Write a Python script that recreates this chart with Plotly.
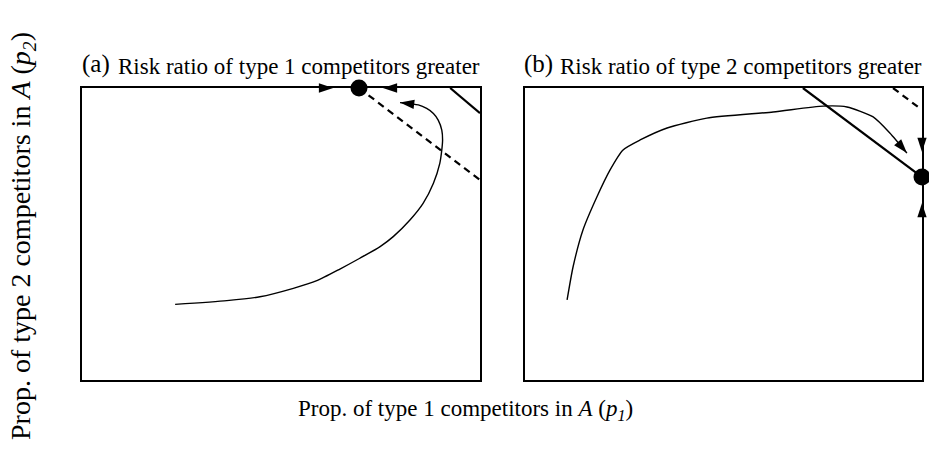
import math
import plotly.graph_objects as go

# ---- data (proportions, 0..1 on both axes) ----
# Panel (a): trajectory p1, p2
a_curve_p1 = [0.234, 0.364, 0.447, 0.531, 0.590, 0.648, 0.698, 0.749, 0.782, 0.824, 0.857, 0.883, 0.899, 0.904, 0.906, 0.904, 0.895, 0.883, 0.866, 0.845, 0.799]
a_curve_p2 = [0.259, 0.272, 0.285, 0.314, 0.340, 0.380, 0.417, 0.457, 0.491, 0.548, 0.605, 0.674, 0.742, 0.788, 0.822, 0.856, 0.890, 0.913, 0.930, 0.942, 0.950]
a_eq_p1, a_eq_p2 = [0.696], [1.0]
a_dash_p1, a_dash_p2 = [0.696, 1.0], [1.0, 0.685]
a_solid_p1, a_solid_p2 = [0.925, 1.0], [1.0, 0.914]
a_edge_arrow_p1 = [0.631, 0.756]
a_edge_arrow_p2 = [1.0, 1.0]
a_edge_arrow_dir = [90, 270]

# Panel (b)
b_curve_p1 = [0.106, 0.121, 0.146, 0.181, 0.214, 0.247, 0.290, 0.358, 0.458, 0.625, 0.751, 0.811, 0.877, 0.919, 0.962]
b_curve_p2 = [0.274, 0.387, 0.514, 0.627, 0.719, 0.788, 0.822, 0.863, 0.897, 0.918, 0.938, 0.935, 0.901, 0.846, 0.777]
b_eq_p1, b_eq_p2 = [1.0], [0.695]
b_solid_p1, b_solid_p2 = [0.700, 1.0], [1.0, 0.695]
b_dash_p1, b_dash_p2 = [0.927, 0.990], [1.0, 0.935]
b_edge_arrow_p1 = [1.0, 1.0]
b_edge_arrow_p2 = [0.781, 0.606]
b_edge_arrow_dir = [180, 0]

panel_tags = ["(a)", "(b)"]
panel_titles = ["Risk ratio of type 1 competitors greater",
                "Risk ratio of type 2 competitors greater"]
x_title = "Prop. of type 1 competitors in <i>A</i> (<i>p<sub>1</sub></i>)"
y_title = "Prop. of type 2 competitors in <i>A</i> (<i>p<sub>2</sub></i>)"

FONT = "Liberation Serif"
W, H = 929, 455
PX_X0, PX_X1 = 82, 480       # panel (a) horizontal extent in px
PX_X0B, PX_X1B = 525, 922    # panel (b)
PX_YT, PX_YB = 88, 380       # both panels vertical extent
PLOT_W = PX_X1 - PX_X0
PLOT_H = PX_YB - PX_YT

fig = go.Figure()

def end_angle(cp1, cp2):
    dx = (cp1[-1] - cp1[-2]) * PLOT_W
    dy = (cp2[-1] - cp2[-2]) * PLOT_H
    return math.degrees(math.atan2(dx, dy))

def add_panel(xa, ya, cp1, cp2, eqx, eqy, sx, sy, dx, dy, ex, ey, edir):
    fig.add_trace(go.Scatter(x=cp1, y=cp2, mode="lines",
                             line=dict(color="black", width=1.4, shape="spline", smoothing=0.6),
                             xaxis=xa, yaxis=ya, cliponaxis=False, hoverinfo="skip"))
    fig.add_trace(go.Scatter(x=cp1[-1:], y=cp2[-1:], mode="markers",
                             marker=dict(symbol="arrow", size=15, color="black", angle=end_angle(cp1, cp2),
                                         line=dict(width=0)),
                             xaxis=xa, yaxis=ya, cliponaxis=False, hoverinfo="skip"))
    fig.add_trace(go.Scatter(x=sx, y=sy, mode="lines", line=dict(color="black", width=2.2),
                             xaxis=xa, yaxis=ya, cliponaxis=False, hoverinfo="skip"))
    fig.add_trace(go.Scatter(x=dx, y=dy, mode="lines", line=dict(color="black", width=2.2, dash="7px,5px"),
                             xaxis=xa, yaxis=ya, cliponaxis=False, hoverinfo="skip"))
    fig.add_trace(go.Scatter(x=ex, y=ey, mode="markers",
                             marker=dict(symbol="arrow", size=15, color="black", angle=edir, line=dict(width=0)),
                             xaxis=xa, yaxis=ya, cliponaxis=False, hoverinfo="skip"))
    fig.add_trace(go.Scatter(x=eqx, y=eqy, mode="markers", marker=dict(size=17, color="black"),
                             xaxis=xa, yaxis=ya, cliponaxis=False, hoverinfo="skip"))

add_panel("x", "y", a_curve_p1, a_curve_p2, a_eq_p1, a_eq_p2, a_solid_p1, a_solid_p2,
          a_dash_p1, a_dash_p2, a_edge_arrow_p1, a_edge_arrow_p2, a_edge_arrow_dir)
add_panel("x2", "y2", b_curve_p1, b_curve_p2, b_eq_p1, b_eq_p2, b_solid_p1, b_solid_p2,
          b_dash_p1, b_dash_p2, b_edge_arrow_p1, b_edge_arrow_p2, b_edge_arrow_dir)

ydom = [1 - PX_YB / H, 1 - PX_YT / H]
axcommon = dict(range=[0, 1], showgrid=False, zeroline=False, showticklabels=False, ticks="",
                showline=True, mirror=True, linecolor="black", linewidth=2, fixedrange=True)

fig.update_layout(
    width=W, height=H, margin=dict(l=0, r=0, t=0, b=0),
    paper_bgcolor="white", plot_bgcolor="white", showlegend=False,
    font=dict(family=FONT, color="black"),
    xaxis=dict(domain=[PX_X0 / W, PX_X1 / W], anchor="y", **axcommon),
    yaxis=dict(domain=ydom, anchor="x", **axcommon),
    xaxis2=dict(domain=[PX_X0B / W, PX_X1B / W], anchor="y2", **axcommon),
    yaxis2=dict(domain=ydom, anchor="x2", **axcommon),
)

def panel_title(x0, tag, text):
    fig.add_annotation(x=x0 / W, y=1 - 64 / H, xref="paper", yref="paper", xanchor="left", yanchor="middle",
                       showarrow=False, text=tag, font=dict(family=FONT, size=25, color="black"))
    fig.add_annotation(x=(x0 + 36) / W, y=1 - 66 / H, xref="paper", yref="paper", xanchor="left",
                       yanchor="middle", showarrow=False, text=text,
                       font=dict(family=FONT, size=23, color="black"))

panel_title(80, panel_tags[0], panel_titles[0])
panel_title(522, panel_tags[1], panel_titles[1])

fig.add_annotation(x=465 / W, y=1 - 410 / H, xref="paper", yref="paper", xanchor="center", yanchor="middle",
                   showarrow=False, text=x_title, font=dict(family=FONT, size=23, color="black"))
fig.add_annotation(x=22 / W, y=1 - 236 / H, xref="paper", yref="paper", xanchor="center", yanchor="middle",
                   textangle=-90, showarrow=False, text=y_title, font=dict(family=FONT, size=28, color="black"))

fig.write_html("out.html", config={"displayModeBar": False, "staticPlot": True})

# remove default browser body margin so the figure sits at the page origin
with open("out.html", "r", encoding="utf-8") as f:
    html = f.read()
html = html.replace("<head>", "<head><style>html,body{margin:0;padding:0;overflow:hidden;}</style>", 1)
with open("out.html", "w", encoding="utf-8") as f:
    f.write(html)
